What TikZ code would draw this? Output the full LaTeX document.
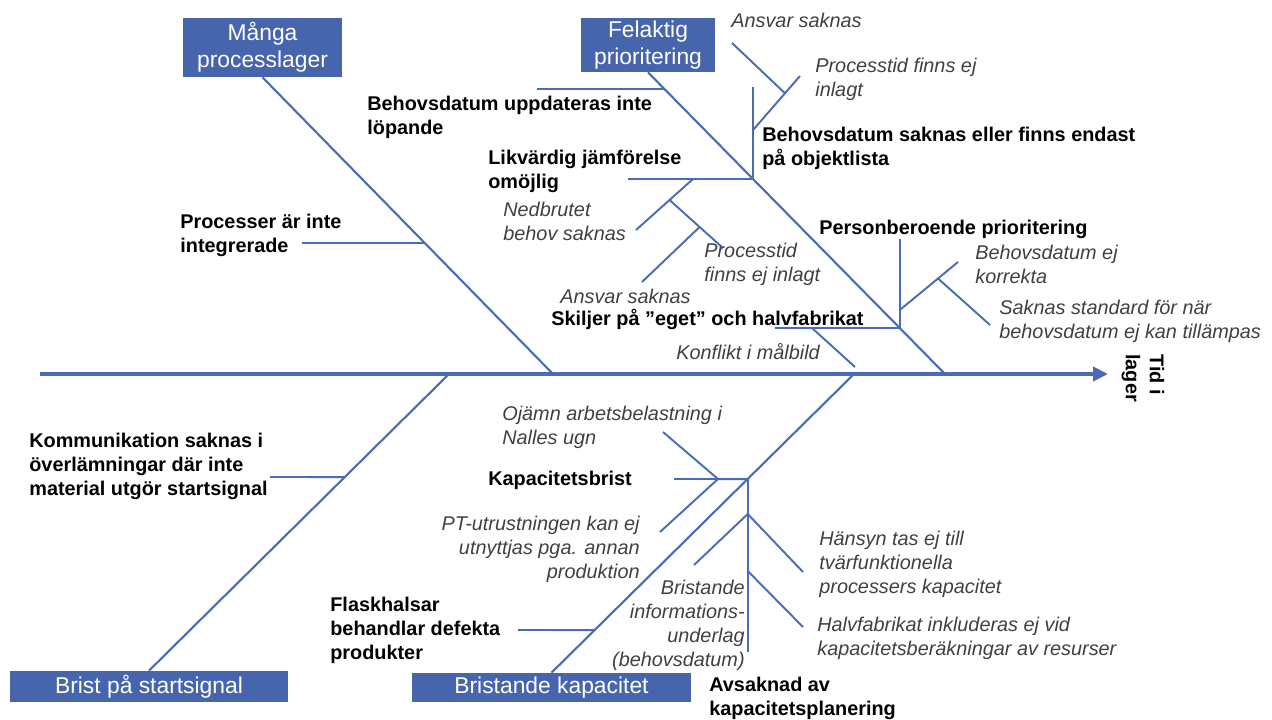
\documentclass[tikz,border=0pt]{standalone}
\usepackage{fontspec}
\setmainfont{Liberation Sans}
\usetikzlibrary{arrows.meta,calc}
\definecolor{bone}{RGB}{74,107,181}
\definecolor{boxblue}{RGB}{70,101,173}
\definecolor{note}{RGB}{64,64,64}

\begin{document}
\begin{tikzpicture}[x=0.02cm,y=-0.02cm,
  catbox/.style={fill=boxblue,text=white,inner sep=0,align=center,
    font=\fontsize{13}{15.5}\selectfont},
  cause/.style={inner sep=0,align=left,anchor=west,text=black,
    font=\bfseries\fontsize{11.3}{13.6}\selectfont},
  detail/.style={inner sep=0,align=left,anchor=west,text=note,
    font=\itshape\fontsize{11.3}{13.6}\selectfont},
  boneline/.style={draw=bone,line width=1.2pt},
  twig/.style={draw=bone,line width=1.1pt},
  spine/.style={draw=bone,line width=2.3pt,-{Triangle[length=8.5pt,width=8pt]}}
]
\useasboundingbox (0,0) rectangle (1272,720);

% category boxes
\node[catbox,minimum width=3.18cm,minimum height=1.18cm] (mp) at (262.5,47.5) {Många\\processlager};
\node[catbox,minimum width=2.68cm,minimum height=1.08cm] (fp) at (648,45) {Felaktig\\prioritering};
\node[catbox,minimum width=5.56cm,minimum height=0.62cm] (bs) at (149,686.5) {Brist på startsignal};
\node[catbox,minimum width=5.58cm,minimum height=0.58cm] (bk) at (551.5,687.5) {Bristande kapacitet};

% spine
\coordinate (s0) at (40,374);
\coordinate (s1) at (1108,374);
\draw[spine] (s0) -- (s1);
\node[cause,rotate=-90,anchor=west] (tid) at (1143,354) {Tid i\\lager};

% main bones
\coordinate (e1) at (553,374);
\coordinate (e2) at (945,374);
\coordinate (e3) at (449,374);
\coordinate (e4) at (854,374);
\draw[boneline] (mp.south) -- (e1);
\draw[boneline] (fp.south) -- (e2);
\draw[boneline] (bs.north) -- (e3);
\draw[boneline] (bk.north) -- (e4);

% --- Många processlager
\coordinate (j1) at (intersection of mp.south--e1 and 0,243--100,243);
\coordinate (a1) at (302,243);
\draw[twig] (a1) -- (j1);
\node[cause] (c1) at (180,235) {Processer är inte\\integrerade};

% --- Felaktig prioritering
\coordinate (j2) at (intersection of fp.south--e2 and 0,89--100,89);
\coordinate (a2) at (537,89);
\draw[twig] (a2) -- (j2);
\node[cause] (c2) at (367,117) {Behovsdatum uppdateras inte\\löpande};

\coordinate (j3) at (intersection of fp.south--e2 and 0,179--100,179);
\coordinate (a3) at (628,179);
\coordinate (v3) at (j3 |- 0,87);
\draw[twig] (a3) -- (j3);
\draw[twig] (j3) -- (v3);
\node[cause] (c3) at (488,171.5) {Likvärdig jämförelse\\omöjlig};
\node[cause] (c4) at (762,148) {Behovsdatum saknas eller finns endast\\på objektlista};

\coordinate (w1) at (j3 |- 0,130);
\coordinate (w1e) at (800,76);
\coordinate (w2) at (intersection of w1--w1e and 785,0--785,100);
\coordinate (w2e) at (732,43);
\draw[twig] (w1) -- (w1e);
\draw[twig] (w2e) -- (w2);
\node[detail] (d1) at (731,20) {Ansvar saknas};
\node[detail] (d2) at (815,79.5) {Processtid finns ej\\inlagt};

\coordinate (k1) at (693,179);
\coordinate (k1e) at (636,230);
\coordinate (k2) at (intersection of k1--k1e and 0,200--100,200);
\coordinate (k2e) at (723,248);
\coordinate (k3) at (intersection of k2--k2e and 0,227--100,227);
\coordinate (k3e) at (642,282);
\draw[twig] (k1) -- (k1e);
\draw[twig] (k2) -- (k2e);
\draw[twig] (k3) -- (k3e);
\node[detail] (d3) at (503,221.5) {Nedbrutet\\behov saknas};
\node[detail] (d4) at (704,264.5) {Processtid\\finns ej inlagt};
\node[detail] (d5) at (560,296) {Ansvar saknas};

\coordinate (j4) at (intersection of fp.south--e2 and 0,328--100,328);
\coordinate (a4) at (775,328);
\draw[twig] (a4) -- (j4);
\node[cause] (c5) at (551,319) {Skiljer på ”eget” och halvfabrikat};
\coordinate (m1) at (812,328);
\coordinate (m1e) at (855,367);
\draw[twig] (m1) -- (m1e);
\node[detail] (d6) at (676,352) {Konflikt i målbild};

\coordinate (p0) at (j4 |- 0,239);
\draw[twig] (j4) -- (p0);
\node[cause] (c6) at (819,229) {Personberoende prioritering};
\coordinate (p1) at (j4 |- 0,310);
\coordinate (p1e) at (958,262);
\coordinate (p2) at (intersection of p1--p1e and 938,0--938,100);
\coordinate (p2e) at (990,325);
\draw[twig] (p1) -- (p1e);
\draw[twig] (p2) -- (p2e);
\node[detail] (d7) at (975,264) {Behovsdatum ej\\korrekta};
\node[detail] (d8) at (999,321) {Saknas standard för när\\behovsdatum ej kan tillämpas};

% --- Brist på startsignal
\coordinate (j5) at (intersection of bs.north--e3 and 0,477--100,477);
\coordinate (a5) at (270,477);
\draw[twig] (a5) -- (j5);
\node[cause] (c7) at (29,466.5) {Kommunikation saknas i\\överlämningar där inte\\material utgör startsignal};

% --- Bristande kapacitet
\coordinate (j6) at (intersection of bk.north--e4 and 0,630--100,630);
\coordinate (a6) at (518,630);
\draw[twig] (a6) -- (j6);
\node[cause] (c8) at (330,630) {Flaskhalsar\\behandlar defekta\\produkter};

\coordinate (j7) at (intersection of bk.north--e4 and 0,479--100,479);
\coordinate (a7) at (674,479);
\draw[twig] (a7) -- (j7);
\node[cause] (c9) at (488,480) {Kapacitetsbrist};
\coordinate (q1) at (718,479);
\coordinate (q1a) at (663,432);
\coordinate (q1b) at (660,532);
\draw[twig] (q1a) -- (q1);
\draw[twig] (q1) -- (q1b);
\node[detail] (d9) at (502,427.5) {Ojämn arbetsbelastning i\\Nalles ugn};
\node[detail,anchor=east,align=right] (d10) at (640,549.5) {PT-utrustningen kan ej\\utnyttjas pga. annan\\produktion};

\coordinate (v7) at (j7 |- 0,652);
\draw[twig] (j7) -- (v7);
\node[cause] (c10) at (709,698.5) {Avsaknad av\\kapacitetsplanering};
\coordinate (r1) at (j7 |- 0,514);
\coordinate (r1a) at (694,565);
\coordinate (r1b) at (803,572);
\coordinate (r2) at (j7 |- 0,571);
\coordinate (r2b) at (803,627);
\draw[twig] (r1) -- (r1a);
\draw[twig] (r1) -- (r1b);
\draw[twig] (r2) -- (r2b);
\node[detail,anchor=east,align=right] (d11) at (745,625.5) {Bristande\\informations-\\underlag\\(behovsdatum)};
\node[detail] (d12) at (819,564) {Hänsyn tas ej till\\tvärfunktionella\\processers kapacitet};
\node[detail] (d13) at (817,638.5) {Halvfabrikat inkluderas ej vid\\kapacitetsberäkningar av resurser};
\end{tikzpicture}
\end{document}
